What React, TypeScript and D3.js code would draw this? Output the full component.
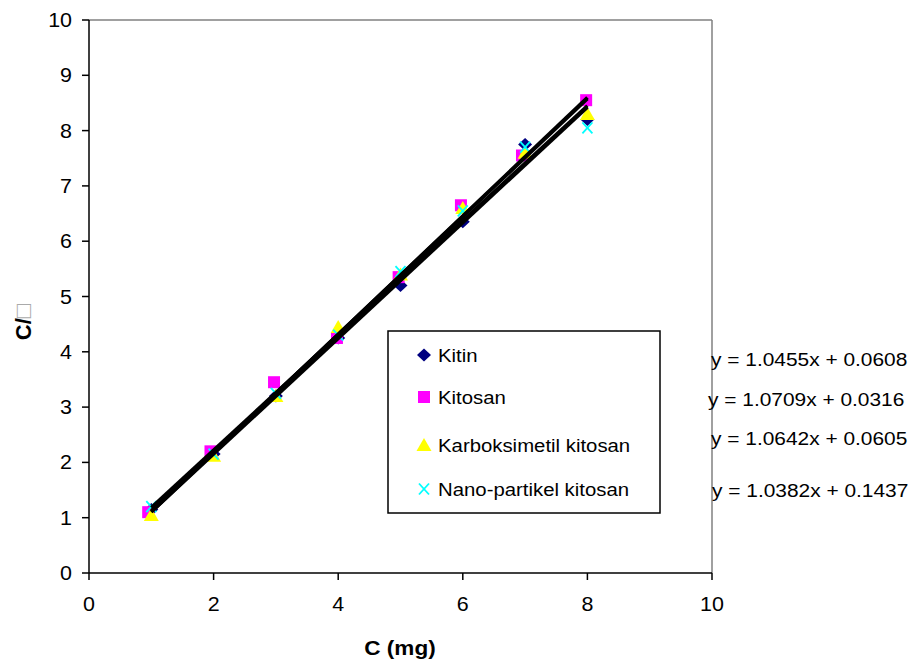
import React from "react";
import * as d3 from "d3";

const xValues = [1, 2, 3, 4, 5, 6, 7, 8];
const kitosanX = [0.95, 1.95, 2.97, 3.98, 4.97, 5.97, 6.95, 7.98];
const kitin = [1.15, 2.15, 3.2, 4.25, 5.2, 6.35, 7.75, 8.2];
const kitosan = [1.1, 2.2, 3.45, 4.25, 5.35, 6.65, 7.55, 8.55];
const karboksimetil = [1.05, 2.12, 3.2, 4.45, 5.4, 6.6, 7.6, 8.3];
const nano = [1.2, 2.15, 3.25, 4.3, 5.45, 6.55, 7.7, 8.05];
const slopes = [1.0455, 1.0709, 1.0642, 1.0382];
const intercepts = [0.0608, 0.0316, 0.0605, 0.1437];
const equations = [
  "y = 1.0455x + 0.0608",
  "y = 1.0709x + 0.0316",
  "y = 1.0642x + 0.0605",
  "y = 1.0382x + 0.1437",
];
const seriesNames = ["Kitin", "Kitosan", "Karboksimetil kitosan", "Nano-partikel kitosan"];
const xTicks = [0, 2, 4, 6, 8, 10];
const yTicks = [0, 1, 2, 3, 4, 5, 6, 7, 8, 9, 10];

const colors = ["#000080", "#FF00FF", "#FFFF00", "#00FFFF"];
const FONT = "Arial, 'Liberation Sans', sans-serif";

function Marker({ kind, x, y }: { kind: number; x: number; y: number }) {
  if (kind === 0) {
    return <path d={`M${x},${y - 6.5}L${x + 7},${y}L${x},${y + 6.5}L${x - 7},${y}Z`} fill={colors[0]} />;
  }
  if (kind === 1) {
    return <rect x={x - 6} y={y - 6} width={12} height={12} fill={colors[1]} />;
  }
  if (kind === 2) {
    return <path d={`M${x},${y - 7}L${x + 7.5},${y + 6}L${x - 7.5},${y + 6}Z`} fill={colors[2]} />;
  }
  return (
    <g stroke={colors[3]} strokeWidth={1.8}>
      <line x1={x - 5} y1={y - 5.5} x2={x + 5} y2={y + 5.5} />
      <line x1={x - 5} y1={y + 5.5} x2={x + 5} y2={y - 5.5} />
    </g>
  );
}

function SText(props: any) {
  const { x, y, anchor = "start", children, size = 18, weight = "normal" } = props;
  return (
    <text
      transform={`translate(${x},${y}) scale(1.1,1)`}
      textAnchor={anchor}
      fontFamily={FONT}
      fontSize={size}
      fontWeight={weight}
      fill="#000"
    >
      {children}
    </text>
  );
}

export default function App() {
  const W = 918;
  const H = 661;
  const x = d3.scaleLinear().domain([0, 10]).range([89, 712]);
  const y = d3.scaleLinear().domain([0, 10]).range([573, 20]);
  const series = [
    { xs: xValues, ys: kitin },
    { xs: kitosanX, ys: kitosan },
    { xs: xValues, ys: karboksimetil },
    { xs: xValues, ys: nano },
  ];

  const legendY = [355, 397, 445, 489];
  const eqY = [366, 406, 445, 497];
  const eqX = [711, 708, 711, 712];

  return (
    <svg width={W} height={H} style={{ position: "absolute", left: 0, top: 0, background: "#fff" }}>
      <rect x={0} y={0} width={W} height={H} fill="#fff" />
      {/* frame */}
      <line x1={89} y1={20} x2={712} y2={20} stroke="#808080" strokeWidth={1.5} />
      <line x1={712} y1={20} x2={712} y2={573} stroke="#808080" strokeWidth={1.5} />
      {/* axes */}
      <line x1={89} y1={20} x2={89} y2={573} stroke="#000" strokeWidth={1.5} />
      <line x1={89} y1={573} x2={712} y2={573} stroke="#000" strokeWidth={1.5} />
      {yTicks.map((t) => (
        <g key={"y" + t}>
          <line x1={82} x2={89} y1={y(t)} y2={y(t)} stroke="#000" strokeWidth={1.5} />
          <SText x={72} y={y(t) + 7} anchor="end" size={19.5}>
            {t}
          </SText>
        </g>
      ))}
      {xTicks.map((t) => (
        <g key={"x" + t}>
          <line x1={x(t)} x2={x(t)} y1={573} y2={580} stroke="#000" strokeWidth={1.5} />
          <SText x={x(t)} y={611} anchor="middle" size={19.5}>
            {t}
          </SText>
        </g>
      ))}
      {/* axis titles */}
      <SText x={400} y={655} anchor="middle" weight="bold" size={20.5}>
        C (mg)
      </SText>
      <text
        transform="translate(31,322) rotate(-90)"
        textAnchor="middle"
        fontFamily={FONT}
        fontSize={22}
        fontWeight="bold"
      >
        C/
        <tspan fontWeight="normal" fill="#aaa" fontSize={24}>
          □
        </tspan>
      </text>
      {/* markers */}
      {series.map((s, si) => (
        <g key={"s" + si}>
          {s.ys.map((v, i) => (
            <Marker key={i} kind={si} x={x(s.xs[i])} y={y(v)} />
          ))}
        </g>
      ))}
      {/* trendlines */}
      {slopes.map((m, i) => {
        const pts = [1, 8];
        const l = d3
          .line<number>()
          .x((d) => x(d))
          .y((d) => y(m * d + intercepts[i]));
        return <path key={"t" + i} d={l(pts) || ""} stroke="#000" strokeWidth={3.5} fill="none" />;
      })}
      {/* legend */}
      <rect x={388} y={331} width={272} height={182} fill="#fff" stroke="#000" strokeWidth={1.5} />
      {seriesNames.map((n, i) => (
        <g key={"l" + i}>
          <Marker kind={i} x={424} y={legendY[i]} />
          <SText x={438} y={legendY[i] + 7} size={18.5}>
            {n}
          </SText>
        </g>
      ))}
      {/* equations */}
      {equations.map((e, i) => (
        <SText key={"e" + i} x={eqX[i]} y={eqY[i]} size={19}>
          {e}
        </SText>
      ))}
    </svg>
  );
}
